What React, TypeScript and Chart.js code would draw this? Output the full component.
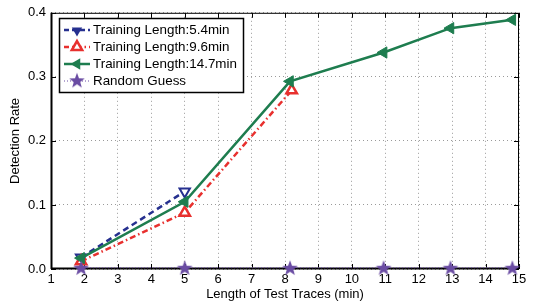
import React, { useEffect, useRef } from 'react';
import { Chart, registerables } from 'chart.js';
Chart.register(...registerables);

const xTickValues = [1, 2, 3, 4, 5, 6, 7, 8, 9, 10, 11, 12, 13, 14, 15];
const yTickValues = [0, 0.1, 0.2, 0.3, 0.4];
const seriesNames = ['Training Length:5.4min', 'Training Length:9.6min', 'Training Length:14.7min', 'Random Guess'];
const xShort = [1.9, 5.0];
const yShort = [0.018, 0.121];
const xMid = [1.9, 5.0, 8.2];
const yMid = [0.012, 0.088, 0.279];
const xLong = [1.9, 5.0, 8.15, 10.95, 12.95, 14.8];
const yLong = [0.017, 0.105, 0.293, 0.338, 0.376, 0.389];
const xRandom = [1.9, 5.0, 8.15, 10.95, 12.95, 14.8];
const yRandom = [0.002, 0.002, 0.002, 0.002, 0.002, 0.002];

const BLUE = '#26308f';
const RED = '#e8302e';
const GREEN = '#1e7d4f';
const PURPLE = '#6a4ca3';
const FONT = '"Liberation Sans", Arial, Helvetica, sans-serif';

function zip(xs: number[], ys: number[]) {
  return xs.map((x, i) => ({ x, y: ys[i] }));
}

function starPath(ctx: CanvasRenderingContext2D, cx: number, cy: number, R: number, r: number) {
  ctx.beginPath();
  for (let i = 0; i < 10; i++) {
    const rad = i % 2 === 0 ? R : r;
    const a = -Math.PI / 2 + (i * Math.PI) / 5;
    const px = cx + rad * Math.cos(a);
    const py = cy + rad * Math.sin(a);
    if (i === 0) ctx.moveTo(px, py);
    else ctx.lineTo(px, py);
  }
  ctx.closePath();
}

function makeStar(): HTMLCanvasElement {
  const c = document.createElement('canvas');
  c.width = 18;
  c.height = 18;
  const ctx = c.getContext('2d')!;
  starPath(ctx, 9, 9.7, 8.2, 3.4);
  ctx.fillStyle = PURPLE;
  ctx.fill();
  return c;
}

function triPath(ctx: CanvasRenderingContext2D, cx: number, cy: number, r: number, rotDeg: number) {
  ctx.beginPath();
  for (let i = 0; i < 3; i++) {
    const a = ((rotDeg - 90) * Math.PI) / 180 + (i * 2 * Math.PI) / 3;
    const px = cx + r * Math.cos(a);
    const py = cy + r * Math.sin(a);
    if (i === 0) ctx.moveTo(px, py);
    else ctx.lineTo(px, py);
  }
  ctx.closePath();
}

const overlayPlugin = {
  id: 'overlay',
  beforeDatasetsDraw(chart: any) {
    const ctx: CanvasRenderingContext2D = chart.ctx;
    const { left, right, top, bottom } = chart.chartArea;
    const xs = chart.scales.x;
    const ys = chart.scales.y;
    ctx.save();
    ctx.strokeStyle = '#000';
    ctx.lineWidth = 1;
    ctx.setLineDash([]);
    ctx.strokeRect(left + 0.5, top + 0.5, right - left - 1, bottom - top - 1);
    ctx.lineWidth = 2;
    ctx.beginPath();
    ctx.moveTo(left, bottom - 0.5);
    ctx.lineTo(right, bottom - 0.5);
    ctx.moveTo(left + 0.5, top);
    ctx.lineTo(left + 0.5, bottom);
    ctx.stroke();
    ctx.lineWidth = 1;
    const tl = 5;
    ctx.beginPath();
    xTickValues.forEach((v) => {
      const px = Math.round(xs.getPixelForValue(v)) + 0.5;
      ctx.moveTo(px, bottom);
      ctx.lineTo(px, bottom - tl);
      ctx.moveTo(px, top);
      ctx.lineTo(px, top + tl);
    });
    yTickValues.forEach((v) => {
      const py = Math.round(ys.getPixelForValue(v)) + 0.5;
      ctx.moveTo(left, py);
      ctx.lineTo(left + tl, py);
      ctx.moveTo(right, py);
      ctx.lineTo(right - tl, py);
    });
    ctx.stroke();
    ctx.restore();
  },
  afterDraw(chart: any, _args: any, opts: any) {
    const ctx: CanvasRenderingContext2D = chart.ctx;
    const { left, right, top, bottom } = chart.chartArea;
    ctx.save();
    ctx.fillStyle = '#000';
    ctx.font = `13px ${FONT}`;
    ctx.textAlign = 'center';
    ctx.textBaseline = 'middle';
    ctx.fillText('Length of Test Traces (min)', (left + right) / 2, 294);
    ctx.save();
    ctx.translate(15, (top + bottom) / 2);
    ctx.rotate(-Math.PI / 2);
    ctx.fillText('Detection Rate', 0, 0);
    ctx.restore();

    const bx = 59, by = 18, bw = 184, bh = 74;
    ctx.fillStyle = '#fff';
    ctx.fillRect(bx, by, bw, bh);
    ctx.strokeStyle = '#000';
    ctx.lineWidth = 1.5;
    ctx.strokeRect(bx + 0.5, by + 0.5, bw, bh);
    const rows = [30, 47, 64, 81];
    const star: HTMLCanvasElement = opts.star;
    rows.forEach((ry, i) => {
      const x0 = 64, x1 = 90, mx = 77;
      ctx.save();
      if (i === 0) {
        ctx.strokeStyle = BLUE; ctx.lineWidth = 2.5; ctx.setLineDash([5, 3]);
      } else if (i === 1) {
        ctx.strokeStyle = RED; ctx.lineWidth = 2.5; ctx.setLineDash([5, 3, 1.5, 3]);
      } else if (i === 2) {
        ctx.strokeStyle = GREEN; ctx.lineWidth = 2.5; ctx.setLineDash([]);
      } else {
        ctx.strokeStyle = PURPLE; ctx.lineWidth = 1; ctx.setLineDash([1, 2]);
      }
      ctx.beginPath();
      ctx.moveTo(x0, ry);
      ctx.lineTo(x1, ry);
      ctx.stroke();
      ctx.setLineDash([]);
      if (i === 0) {
        triPath(ctx, mx, ry + 0.5, 6, 180);
        ctx.fillStyle = BLUE; ctx.fill();
      } else if (i === 1) {
        triPath(ctx, mx, ry, 6, 0);
        ctx.fillStyle = '#fff'; ctx.fill();
        ctx.strokeStyle = RED; ctx.lineWidth = 2.5; ctx.stroke();
      } else if (i === 2) {
        triPath(ctx, mx, ry, 6.5, -90);
        ctx.fillStyle = GREEN; ctx.fill();
      } else {
        ctx.drawImage(star, mx - 9, ry - 9.7);
      }
      ctx.restore();
      ctx.fillStyle = '#000';
      ctx.font = `13.4px ${FONT}`;
      ctx.textAlign = 'left';
      ctx.textBaseline = 'middle';
      ctx.fillText(seriesNames[i], 93, ry + 0.5);
    });
    ctx.restore();
  },
};

export default function App() {
  const ref = useRef<HTMLCanvasElement | null>(null);
  useEffect(() => {
    document.body.style.margin = '0';
    const star = makeStar();
    const chart = new Chart(ref.current!, {
      type: 'line',
      data: {
        datasets: [
          {
            label: seriesNames[0],
            data: zip(xShort, yShort),
            borderColor: BLUE,
            borderWidth: 2.5,
            borderDash: [6, 4],
            pointStyle: 'triangle',
            rotation: 180,
            pointRadius: 6,
            pointBorderWidth: 2,
            pointBackgroundColor: '#fff',
            pointBorderColor: BLUE,
            fill: false,
            order: 3,
          },
          {
            label: seriesNames[1],
            data: zip(xMid, yMid),
            borderColor: RED,
            borderWidth: 2.5,
            borderDash: [6, 3, 1.5, 3],
            pointStyle: 'triangle',
            pointRadius: 6,
            pointBorderWidth: 2.5,
            pointBackgroundColor: '#fff',
            pointBorderColor: RED,
            fill: false,
            order: 2,
          },
          {
            label: seriesNames[2],
            data: zip(xLong, yLong),
            borderColor: GREEN,
            borderWidth: 2.5,
            pointStyle: 'triangle',
            rotation: -90,
            pointRadius: 6.5,
            pointBorderWidth: 1,
            pointBackgroundColor: GREEN,
            pointBorderColor: GREEN,
            fill: false,
            order: 1,
          },
          {
            label: seriesNames[3],
            data: zip(xRandom, yRandom),
            borderColor: PURPLE,
            borderWidth: 1,
            borderDash: [1, 2],
            pointStyle: star as any,
            pointRadius: 9,
            fill: false,
            clip: false as any,
            order: 0,
          },
        ],
      },
      options: {
        animation: false,
        responsive: false,
        devicePixelRatio: 1,
        layout: { padding: { left: 0, right: 19, top: 11, bottom: 0 } },
        plugins: {
          legend: { display: false },
          tooltip: { enabled: false },
          overlay: { star },
        } as any,
        scales: {
          x: {
            type: 'linear',
            min: 1,
            max: 15,
            afterBuildTicks: (s: any) => { s.ticks = xTickValues.map((v) => ({ value: v })); },
            afterFit: (s: any) => { s.height = 38; },
            ticks: {
              color: '#000',
              font: { family: FONT, size: 13 },
              padding: 3,
              maxRotation: 0,
              autoSkip: false,
              callback: (v: any) => String(v),
            },
            grid: { color: '#9a9a9a', lineWidth: 1, drawTicks: false },
            border: { display: false, dash: [1, 3] },
          },
          y: {
            type: 'linear',
            min: 0,
            max: 0.4,
            afterBuildTicks: (s: any) => { s.ticks = yTickValues.map((v) => ({ value: v })); },
            afterFit: (s: any) => { s.width = 51; },
            ticks: {
              color: '#000',
              font: { family: FONT, size: 13 },
              padding: 5,
              autoSkip: false,
              callback: (v: any) => Number(v).toFixed(1),
            },
            grid: { color: '#9a9a9a', lineWidth: 1, drawTicks: false },
            border: { display: false, dash: [1, 3] },
          },
        },
      },
      plugins: [overlayPlugin],
    });
    return () => chart.destroy();
  }, []);
  return <canvas ref={ref} width={538} height={307} style={{ display: 'block' }} />;
}
